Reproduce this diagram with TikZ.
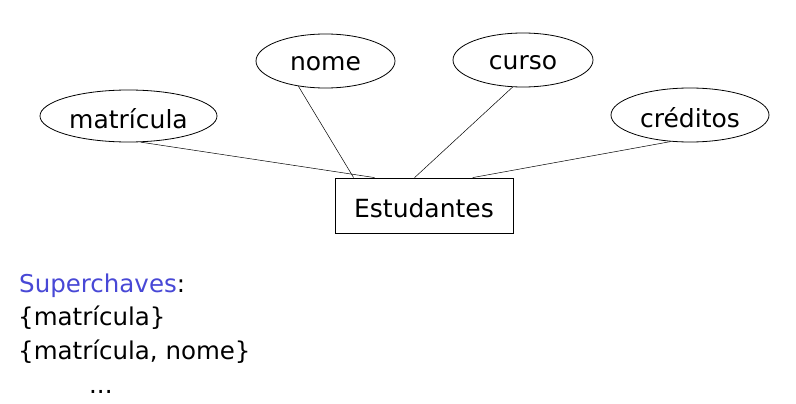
\documentclass[tikz,border=0pt]{standalone}
\usepackage{fontspec}
\setmainfont{DejaVu Sans}
\usetikzlibrary{shapes.geometric,calc}
\definecolor{superblue}{RGB}{72,72,214}
\newcommand{\lowtxt}[1]{\raisebox{-3pt}[\height][\depth]{#1}}
\begin{document}
\begin{tikzpicture}[x=1pt,y=-1pt,
  attr/.style={ellipse,draw,line width=0.8pt,inner sep=0pt,font=\fontsize{25}{29}\selectfont},
  ent/.style={rectangle,draw,line width=0.8pt,minimum width=178pt,minimum height=55pt,inner sep=0pt,font=\fontsize{25}{29}\selectfont},
  link/.style={line width=0.5pt},
  txt/.style={anchor=base west,inner sep=0pt,font=\fontsize{24.5}{28}\selectfont}]
\useasboundingbox (0,0) rectangle (796,404);
\fill[white] (0,0) rectangle (796,404);
\node[attr,minimum width=177pt,minimum height=52pt] (m) at (128.5,116) {\lowtxt{matrícula}};
\node[attr,minimum width=139pt,minimum height=54pt] (n) at (325.5,61) {\lowtxt{nome}};
\node[attr,minimum width=140pt,minimum height=54pt] (c) at (523,60) {\lowtxt{curso}};
\node[attr,minimum width=158pt,minimum height=54pt] (cr) at (690,115) {\lowtxt{créditos}};
\node[ent] (e) at (424,205.5) {\lowtxt{Estudantes}};
\coordinate (e1) at ($(e.north west)+(40,0)$);
\coordinate (e2) at ($(e.north west)+(19,0)$);
\coordinate (e3) at ($(e.north west)+(80,0)$);
\coordinate (e4) at ($(e.north west)+(138,0)$);
\draw[link] (m.-65) -- (e1);
\draw[link] (n.-137) -- (e2);
\draw[link] (c.-111) -- (e3);
\draw[link] (cr.-126) -- (e4);
\node[txt] (t1) at (19,292) {\textcolor{superblue}{Superchaves}:};
\node[txt] (t2) at (18,325.5) {\{matrícula\}};
\node[txt] (t3) at (18,359) {\{matrícula, nome\}};
\node[txt] (t4) at (89,393) {...};
\end{tikzpicture}
\end{document}
